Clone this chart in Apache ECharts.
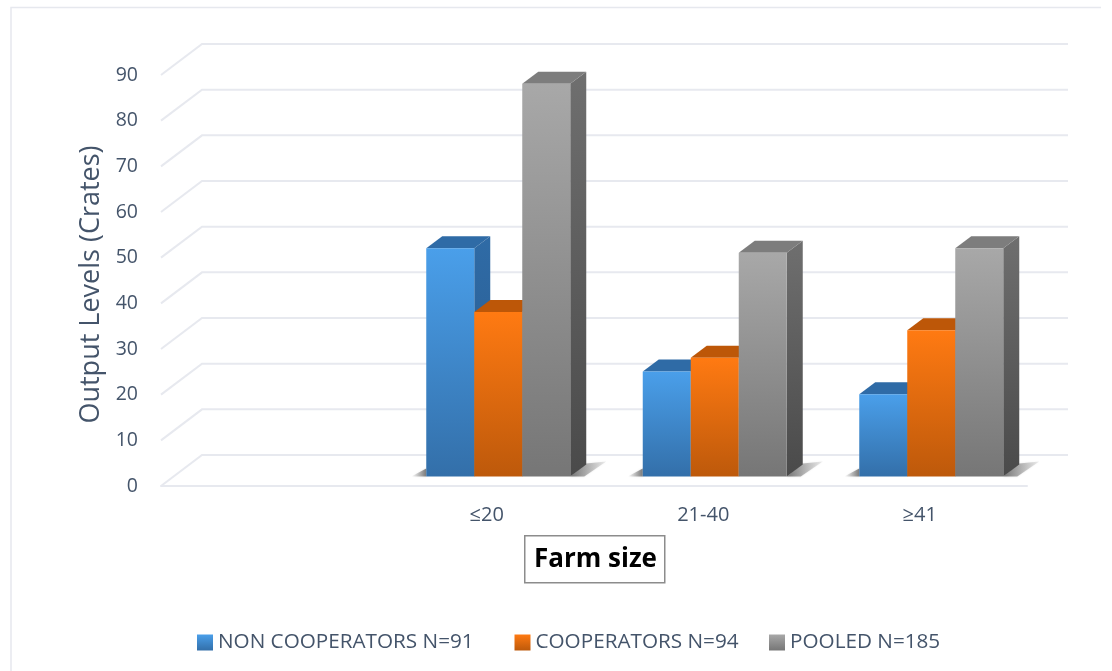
<!DOCTYPE html>
<html>
<head>
<meta charset="utf-8">
<style>html,body{margin:0;padding:0;background:#fff}#chart{width:1112px;height:671px}</style>
<script src="https://cdn.jsdelivr.net/npm/echarts@6/dist/echarts.min.js"></script>
</head>
<body>
<div id="chart"></div>
<script>
// Output levels by farm size; the first band of the axis is left empty.
const categories = ['', '≤20', '21-40', '≥41'];
const nonCooperators = [null, 50, 23, 18];
const cooperators = [null, 36, 26, 32];
const pooled = [null, 86, 49, 50];
const yTicks = [0, 10, 20, 30, 40, 50, 60, 70, 80, 90];
const seriesNames = ['NON COOPERATORS N=91', 'COOPERATORS N=94', 'POOLED N=185'];

// Drawing constants for the oblique 3D look.
const WALL_DX = 41, WALL_DY = -31;
const BAR_SHIFT_X = 12.5, BAR_SHIFT_Y = -9.5;
const BAR_DX = 16, BAR_DY = -12;
const BAR_W = 48;
const TEXT = '#44546a', GRID = '#e7e9ef', FONT = '"Open Sans", sans-serif';
const LEGEND_LEFT = [197, 514.5, 769];

const vGrad = (a, b) => new echarts.graphic.LinearGradient(0, 0, 0, 1, [
  { offset: 0, color: a }, { offset: 1, color: b }
]);
const palette = [
  { front: ['#4a9fea', '#336fa9'], top: '#2f6ba6', side: ['#2f6ba6', '#28598c'] },
  { front: ['#ff7a12', '#bd590b'], top: '#bd5708', side: ['#bd5708', '#9c4808'] },
  { front: ['#a8a8a8', '#767676'], top: '#7d7d7d', side: ['#6f6f6f', '#4a4a4a'] }
];

// Back-wall gridlines with their slanted run to the front plane.
function renderGrid(params, api) {
  const v = api.value(1);
  const p = api.coord([0, v]);
  const band = api.size([1, 0])[0];
  const x0 = p[0] - band / 2;
  const xEnd = api.coord([3, v])[0] + band / 2 + WALL_DX;
  return {
    type: 'polyline',
    shape: { points: [[x0, p[1]], [x0 + WALL_DX, p[1] + WALL_DY], [xEnd, p[1] + WALL_DY]] },
    style: { stroke: GRID, lineWidth: 2, fill: null },
    silent: true
  };
}

// Soft floor shadow around each bar cluster.
function renderShadow(params, api) {
  const p = api.coord([api.value(0), 0]);
  const gc = p[0] + BAR_SHIFT_X, base = p[1] + BAR_SHIFT_Y;
  const half = BAR_W * 1.5;
  return {
    type: 'group',
    silent: true,
    children: [
      {
        type: 'polygon',
        shape: { points: [[gc - half - 15, base], [gc - half, base - 8], [gc - half, base]] },
        style: {
          shadowBlur: 2, shadowColor: 'rgba(120,120,120,0.4)',
          fill: new echarts.graphic.LinearGradient(0, 0, 1, 0, [
            { offset: 0, color: 'rgba(120,120,120,0)' }, { offset: 1, color: 'rgba(90,90,90,0.75)' }
          ])
        }
      },
      {
        type: 'polygon',
        shape: { points: [[gc + half, base], [gc + half + BAR_DX, base + BAR_DY - 1],
          [gc + half + BAR_DX + 20, base + BAR_DY - 3], [gc + half + 14, base]] },
        style: {
          shadowBlur: 2, shadowColor: 'rgba(120,120,120,0.4)',
          fill: new echarts.graphic.LinearGradient(0, 0, 1, 0, [
            { offset: 0, color: 'rgba(90,90,90,0.8)' }, { offset: 1, color: 'rgba(150,150,150,0.15)' }
          ])
        }
      }
    ]
  };
}

// One oblique bar: front face, right side and top, all placed through the axes.
function barRenderer(idx) {
  return function (params, api) {
    const cat = api.value(0), val = api.value(1);
    if (val == null || isNaN(val)) return null;
    const top = api.coord([cat, val]);
    const bot = api.coord([cat, 0]);
    const x0 = top[0] + BAR_SHIFT_X + (idx - 1.5) * BAR_W;
    const x1 = x0 + BAR_W;
    const yT = top[1] + BAR_SHIFT_Y, yB = bot[1] + BAR_SHIFT_Y;
    const c = palette[idx];
    return {
      type: 'group',
      children: [
        { type: 'polygon',
          shape: { points: [[x1, yT], [x1 + BAR_DX, yT + BAR_DY], [x1 + BAR_DX, yB + BAR_DY], [x1, yB]] },
          style: { fill: vGrad(c.side[0], c.side[1]) } },
        { type: 'polygon',
          shape: { points: [[x0, yT], [x0 + BAR_DX, yT + BAR_DY], [x1 + BAR_DX, yT + BAR_DY], [x1, yT]] },
          style: { fill: c.top } },
        { type: 'rect',
          shape: { x: x0, y: yT, width: BAR_W, height: yB - yT },
          style: { fill: vGrad(c.front[0], c.front[1]) } }
      ]
    };
  };
}

const rows = vals => vals.map((v, i) => [i, v]);
const barSeries = [nonCooperators, cooperators, pooled].map((vals, i) => ({
  name: seriesNames[i],
  type: 'custom',
  z: 5,
  renderItem: barRenderer(i),
  encode: { x: 0, y: 1 },
  itemStyle: { color: vGrad(palette[i].front[0], palette[i].front[1]) },
  data: rows(vals)
}));

const chart = echarts.init(document.getElementById('chart'), null, { renderer: 'canvas' });
chart.setOption({
  animation: false,
  backgroundColor: '#ffffff',
  grid: { left: 161, width: 866, top: 75, height: 411, containLabel: false },
  // One legend per entry, since the entries are not evenly spaced.
  legend: seriesNames.map((name, i) => ({
    data: [name],
    left: LEGEND_LEFT[i], top: 632,
    padding: 0,
    itemWidth: 16, itemHeight: 16, itemGap: 0,
    icon: 'rect',
    selectedMode: false,
    textStyle: { color: TEXT, fontSize: 20.7, fontFamily: FONT }
  })),
  xAxis: {
    type: 'category',
    data: categories,
    axisLine: { show: true, lineStyle: { color: GRID, width: 2 } },
    axisTick: { show: false },
    axisLabel: { color: TEXT, fontSize: 20, fontFamily: FONT, margin: 19, padding: [0, 0, 0, 2] },
    splitLine: { show: false }
  },
  yAxis: {
    type: 'value',
    min: 0, max: 90, interval: 10,
    name: 'Output Levels (Crates)',
    nameLocation: 'middle',
    nameGap: 51,
    nameTextStyle: { color: TEXT, fontSize: 27, fontFamily: FONT, padding: [0, 8, 0, 0] },
    axisLine: { show: false },
    axisTick: { show: false },
    splitLine: { show: false },
    axisLabel: { color: TEXT, fontSize: 19.5, fontFamily: FONT, margin: 23 }
  },
  graphic: [
    { type: 'polyline', silent: true,
      shape: { points: [[11, 671], [11, 7.5], [1101, 7.5]] },
      style: { stroke: '#e6e8ee', lineWidth: 1.5, fill: null } },
    { type: 'rect', silent: true, left: 524, top: 535,
      shape: { width: 140, height: 47 },
      style: { fill: '#fff', stroke: '#8c8c8c', lineWidth: 1.5 } },
    { type: 'text', silent: true, left: 534, top: 547,
      style: { text: 'Farm size', fill: '#000', font: 'bold 26px "Open Sans", sans-serif' } }
  ],
  series: [
    { name: 'grid', type: 'custom', z: 1, renderItem: renderGrid, encode: { x: 0, y: 1 },
      data: yTicks.map(v => [0, v]) },
    { name: 'shadow', type: 'custom', z: 2, renderItem: renderShadow, encode: { x: 0, y: 1 },
      data: [[1, 0], [2, 0], [3, 0]] }
  ].concat(barSeries)
});
</script>
</body>
</html>
